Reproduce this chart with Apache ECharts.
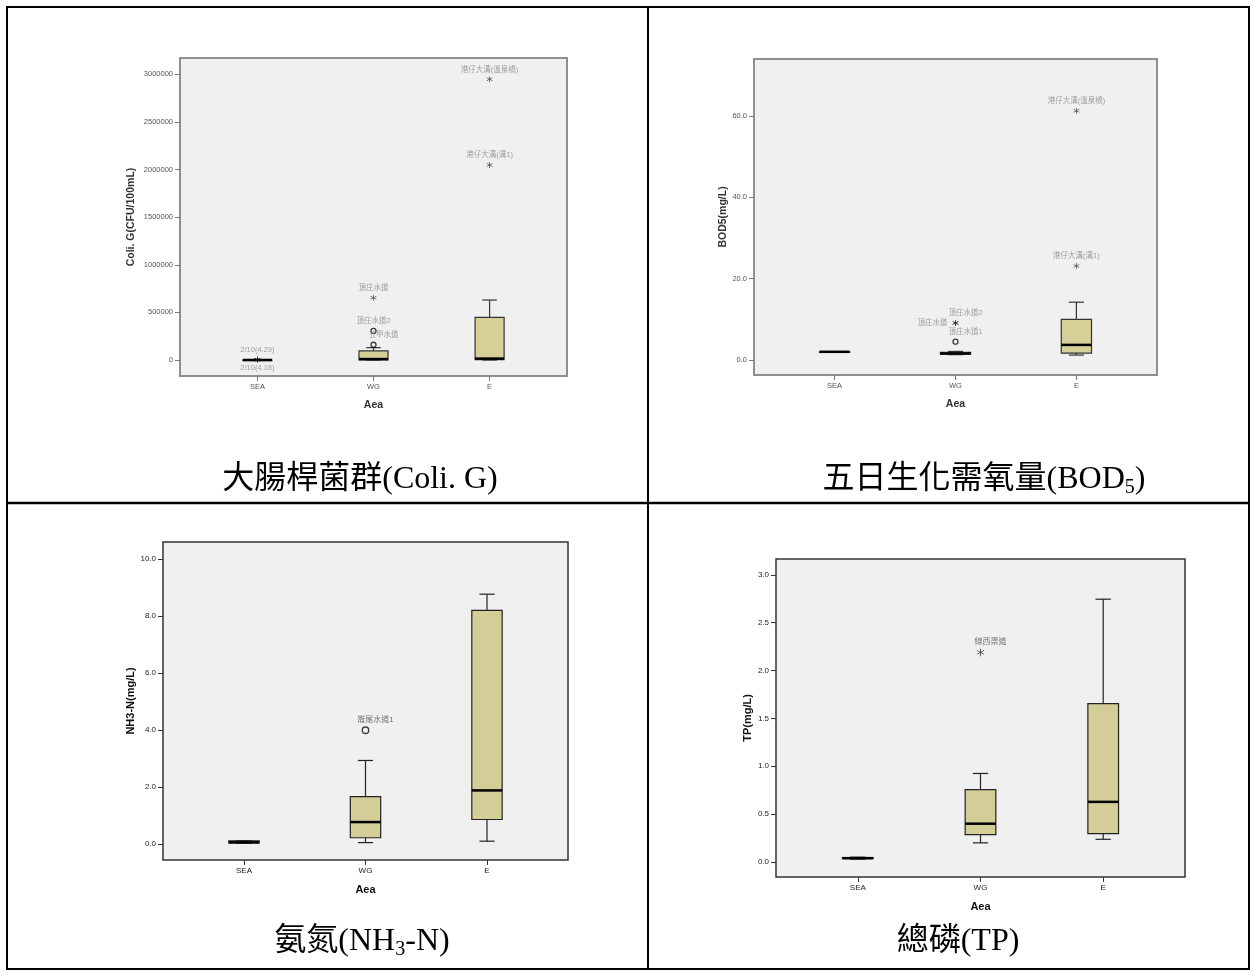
<!DOCTYPE html>
<html>
<head>
<meta charset="utf-8">
<script src="https://cdn.jsdelivr.net/npm/echarts@6/dist/echarts.min.js"></script>
<style>
html,body{margin:0;padding:0;background:#ffffff;}
#c{width:1255px;height:976px;}
</style>
</head>
<body>
<div id="c"></div>
<script>
// ---------- data ----------
const categories = ['SEA', 'WG', 'E'];

// box statistics per category: [min, Q1, median, Q3, max]
const coliBoxes = [[0, 100, 200, 300, 500], [0, 2000, 10000, 95000, 130000], [0, 3000, 15000, 448000, 630000]];
// outliers: [category index, value, label, marker]
const coliOutliers = [
  [0, 4000, '2/10(4.29)', 'star'],
  [0, 3000, '2/10(4.18)', 'star'],
  [1, 654000, '頂庄水道', 'star'],
  [1, 305000, '頂庄水道2', 'circle'],
  [1, 160000, '五甲水道', 'circle'],
  [2, 2948000, '港仔大溝(溫泉橋)', 'star'],
  [2, 2048000, '港仔大溝(溝1)', 'star']
];
const coliTicks = [0, 500000, 1000000, 1500000, 2000000, 2500000, 3000000];

const bodBoxes = [[2.0, 2.0, 2.0, 2.0, 2.0], [1.3, 1.4, 1.6, 1.9, 2.1], [1.2, 1.7, 3.7, 10.0, 14.2]];
const bodOutliers = [
  [1, 9.1, '頂庄水道2', 'star'],
  [1, 9.1, '頂庄水道', 'star'],
  [1, 4.5, '頂庄水道1', 'circle'],
  [2, 61.3, '港仔大溝(溫泉橋)', 'star'],
  [2, 23.1, '港仔大溝(溝1)', 'star']
];
const bodTicks = [0, 20, 40, 60];

const nh3Boxes = [[0.03, 0.04, 0.06, 0.11, 0.12], [0.05, 0.22, 0.77, 1.66, 2.93], [0.10, 0.86, 1.88, 8.19, 8.76]];
const nh3Outliers = [
  [1, 3.99, '崙尾水道1', 'circle']
];
const nh3Ticks = [0, 2, 4, 6, 8, 10];

const tpBoxes = [[0.03, 0.035, 0.04, 0.045, 0.05], [0.20, 0.286, 0.40, 0.757, 0.925], [0.237, 0.297, 0.628, 1.654, 2.746]];
const tpOutliers = [
  [1, 2.19, '線西渠道', 'star']
];
const tpTicks = [0, 0.5, 1.0, 1.5, 2.0, 2.5, 3.0];

// label placements (styling only)
const coliPlaces = ['T', 'B', 'T', 'T', 'TR', 'T', 'T'];
const bodPlaces = ['TR', 'L', 'TR', 'T', 'T'];
const nh3Places = ['TR'];
const tpPlaces = ['TR'];

// ---------- helpers ----------
const SANS = "'Liberation Sans', Arial, 'Noto Sans CJK TC', sans-serif";
const SERIF = "'Liberation Serif', 'Times New Roman', 'Noto Sans CJK TC', serif";
const STAR = 'path://M-0.1 -1 L0.1 -1 L0.1 1 L-0.1 1 Z M0.916 0.413 L0.816 0.587 L-0.916 -0.413 L-0.816 -0.587 Z M-0.816 0.587 L-0.916 0.413 L0.816 -0.587 L0.916 -0.413 Z';

const blurry = {frame: '#8f8f8f', frameW: 2, text: '#555555', tickFont: 7.5, titleFont: 10.5, lab: '#8a8a8a', labFont: 7.5, mark: 5, line: '#333333', fill: '#D6CF98', tick: '#777777', title: '#333333'};
const crisp = {frame: '#333333', frameW: 1.5, text: '#222222', tickFont: 8, titleFont: 11, lab: '#555555', labFont: 8, mark: 6.5, line: '#222222', fill: '#D3CE97', tick: '#333333', title: '#111111'};

function boxRender(st) {
  return function (params, api) {
    const x = api.value(0);
    const c = function (v) { return api.coord([x, v]); };
    const pMin = c(api.value(1)), pQ1 = c(api.value(2)), pMed = c(api.value(3)), pQ3 = c(api.value(4)), pMax = c(api.value(5));
    const band = api.size([1, 0])[0];
    const hw = band * 0.125, cw = hw / 2;
    const cx = pMed[0];
    const ls = {stroke: st.line, lineWidth: 1.2};
    return {
      type: 'group',
      children: [
        {type: 'line', shape: {x1: cx, y1: pMax[1], x2: cx, y2: pQ3[1]}, style: ls},
        {type: 'line', shape: {x1: cx, y1: pQ1[1], x2: cx, y2: pMin[1]}, style: ls},
        {type: 'line', shape: {x1: cx - cw, y1: pMax[1], x2: cx + cw, y2: pMax[1]}, style: ls},
        {type: 'line', shape: {x1: cx - cw, y1: pMin[1], x2: cx + cw, y2: pMin[1]}, style: ls},
        {type: 'rect', shape: {x: cx - hw, y: pQ3[1], width: hw * 2, height: Math.max(pQ1[1] - pQ3[1], 0.6)},
          style: {fill: st.fill, stroke: st.line, lineWidth: 1.2}},
        {type: 'line', shape: {x1: cx - hw, y1: pMed[1], x2: cx + hw, y2: pMed[1]}, style: {stroke: '#000', lineWidth: 2.5}}
      ]
    };
  };
}

function placeLabel(p) {
  if (p === 'B') return {position: 'bottom', distance: 1, offset: [0, 0]};
  if (p === 'L') return {position: 'left', distance: 5, offset: [0, 0]};
  if (p === 'TR') return {position: 'top', distance: 3, offset: [10, 0]};
  return {position: 'top', distance: 3, offset: [0, 0]};
}

function outlierData(list, places, st) {
  return list.map(function (o, i) {
    const isStar = o[3] === 'star';
    return {
      value: [o[0], o[1]],
      symbol: isStar ? STAR : 'circle',
      symbolSize: isStar ? st.mark + 1 : st.mark,
      itemStyle: isStar ? {color: '#111'} : {color: 'rgba(0,0,0,0)', borderColor: '#111', borderWidth: 1.3},
      label: Object.assign({show: true, formatter: o[2], color: st.lab, fontSize: st.labFont, fontFamily: SANS}, placeLabel(places[i]))
    };
  });
}

const panels = [
  {grid: {left: 180, top: 58, width: 387, height: 318}, min: -168000, max: 3172000, ticks: coliTicks, dec: 0,
    name: 'Coli. G(CFU/100mL)', nameGap: 44, boxes: coliBoxes, outliers: coliOutliers, places: coliPlaces, st: blurry},
  {grid: {left: 754, top: 59, width: 403, height: 316}, min: -3.7, max: 74, ticks: bodTicks, dec: 1,
    name: 'BOD5(mg/L)', nameGap: 24, boxes: bodBoxes, outliers: bodOutliers, places: bodPlaces, st: blurry},
  {grid: {left: 163, top: 542, width: 405, height: 318}, min: -0.56, max: 10.59, ticks: nh3Ticks, dec: 1,
    name: 'NH3-N(mg/L)', nameGap: 25, boxes: nh3Boxes, outliers: nh3Outliers, places: nh3Places, st: crisp},
  {grid: {left: 776, top: 559, width: 409, height: 318}, min: -0.157, max: 3.166, ticks: tpTicks, dec: 1,
    name: 'TP(mg/L)', nameGap: 23, boxes: tpBoxes, outliers: tpOutliers, places: tpPlaces, st: crisp}
];

const grids = [], xAxes = [], yAxes = [], series = [];
panels.forEach(function (p, i) {
  const st = p.st;
  grids.push(Object.assign({show: true, backgroundColor: '#F0F0F0', borderColor: st.frame, borderWidth: st.frameW}, p.grid));
  xAxes.push({
    gridIndex: i, type: 'value', min: -2 / 3, max: 8 / 3, position: 'bottom',
    axisLine: {show: false, onZero: false}, splitLine: {show: false},
    axisTick: {show: true, customValues: [0, 1, 2], length: 5, lineStyle: {color: st.tick, width: 1}},
    axisLabel: {show: true, customValues: [0, 1, 2], formatter: function (v) { return categories[Math.round(v)]; },
      fontSize: st.tickFont, color: st.text, fontFamily: SANS, margin: 7},
    name: 'Aea', nameLocation: 'middle', nameGap: 24,
    nameTextStyle: {fontWeight: 'bold', fontSize: st.titleFont, color: st.title, fontFamily: SANS}
  });
  yAxes.push({
    gridIndex: i, type: 'value', min: p.min, max: p.max, position: 'left',
    axisLine: {show: false, onZero: false}, splitLine: {show: false},
    axisTick: {show: true, customValues: p.ticks, length: 5, lineStyle: {color: st.tick, width: 1}},
    axisLabel: {show: true, customValues: p.ticks, formatter: (function (d) { return function (v) { return Number(v).toFixed(d); }; })(p.dec),
      fontSize: st.tickFont, color: st.text, fontFamily: SANS, margin: 7},
    name: p.name, nameLocation: 'middle', nameRotate: 90, nameGap: p.nameGap,
    nameTextStyle: {fontWeight: 'bold', fontSize: st.titleFont, color: st.title, fontFamily: SANS}
  });
  series.push({
    type: 'custom', xAxisIndex: i, yAxisIndex: i,
    data: p.boxes.map(function (b, k) { return [k].concat(b); }),
    encode: {x: 0, y: [1, 2, 3, 4, 5]},
    renderItem: boxRender(st), silent: true, z: 2
  });
  series.push({
    type: 'scatter', xAxisIndex: i, yAxisIndex: i,
    data: outlierData(p.outliers, p.places, st), silent: true, z: 3
  });
});

const capFont = 32, subFont = 20;
const capStyle = {fill: '#000', font: capFont + "px " + SERIF, align: 'center', verticalAlign: 'middle'};
const richCap = {
  n: {fontSize: capFont, fontFamily: SERIF, color: '#000', lineHeight: 36},
  s: {fontSize: subFont, fontFamily: SERIF, color: '#000', lineHeight: 36, verticalAlign: 'bottom', padding: [11, 0, 0, 0]}
};
const graphic = [
  {type: 'rect', shape: {x: 7, y: 7, width: 1242, height: 962}, style: {fill: 'none', stroke: '#000', lineWidth: 2}, z: 10},
  {type: 'line', shape: {x1: 648, y1: 7, x2: 648, y2: 969}, style: {stroke: '#000', lineWidth: 2}, z: 10},
  {type: 'line', shape: {x1: 7, y1: 503, x2: 1249, y2: 503}, style: {stroke: '#000', lineWidth: 2.5}, z: 10},
  {type: 'text', x: 360, y: 480, style: Object.assign({text: '大腸桿菌群(Coli. G)'}, capStyle), z: 10},
  {type: 'text', x: 984, y: 480, style: {text: '{n|五日生化需氧量(BOD}{s|5}{n|)}', align: 'center', verticalAlign: 'middle', rich: richCap}, z: 10},
  {type: 'text', x: 362, y: 942, style: {text: '{n|氨氮(NH}{s|3}{n|-N)}', align: 'center', verticalAlign: 'middle', rich: richCap}, z: 10},
  {type: 'text', x: 958, y: 942, style: Object.assign({text: '總磷(TP)'}, capStyle), z: 10}
];

const chart = echarts.init(document.getElementById('c'), null, {renderer: 'canvas'});
chart.setOption({
  animation: false,
  backgroundColor: '#ffffff',
  grid: grids, xAxis: xAxes, yAxis: yAxes, series: series, graphic: graphic
});
</script>
</body>
</html>
